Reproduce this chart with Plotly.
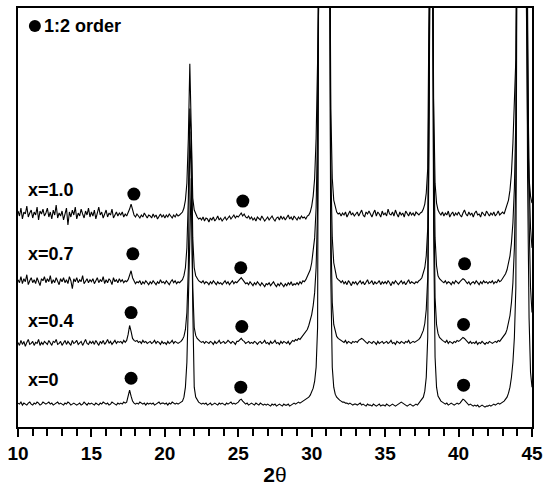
import numpy as np
import plotly.graph_objects as go

# 2-theta grid (degrees), 0.1 deg steps from 10 to 45
two_theta = np.round(np.arange(10.0, 45.0001, 0.1), 1)

# Intensities (arbitrary units, stacked as drawn in the figure)
int_x10 = [
    217,212,220,209,216,214,222,211,215,218,
    210,216,213,221,208,217,214,219,212,215,
    220,211,216,209,218,213,223,210,215,212,
    217,208,214,220,203,216,211,218,213,221,
    209,215,212,219,214,210,217,213,220,211,
    216,212,218,209,215,221,213,216,210,214,
    218,211,215,213,219,210,214,216,212,215,
    213,216,211,214,212,215,219,224,217,213,
    211,214,212,210,213,211,215,212,210,213,
    212,210,214,211,213,209,212,214,211,213,
    210,213,211,214,212,210,213,211,214,212,
    213,215,216,220,228,245,290,365,300,230,
    218,214,211,209,210,208,211,207,210,209,
    206,210,208,211,207,209,212,208,210,207,
    209,211,208,210,212,209,211,213,210,212,
    211,213,215,212,214,211,210,212,209,211,
    208,210,207,211,209,208,212,210,207,209,
    211,208,210,212,209,207,210,211,208,212,
    209,211,208,210,213,209,211,208,212,210,
    208,211,209,212,210,211,209,212,213,216,
    222,232,250,290,380,600,600,600,600,600,
    600,600,600,320,250,228,220,216,214,215,
    212,215,213,216,211,214,217,213,215,212,
    214,216,212,215,218,213,211,216,214,217,
    213,211,215,218,212,216,214,211,217,213,
    215,212,219,214,213,216,212,218,214,211,
    216,213,215,211,217,214,212,216,213,215,
    212,216,214,213,215,216,219,224,235,260,
    450,600,600,330,245,225,218,215,213,216,
    212,215,213,217,211,214,216,212,215,213,
    216,213,211,215,218,214,212,216,213,215,
    211,215,217,213,214,211,216,214,212,217,
    214,212,215,213,216,212,214,217,213,215,
    216,214,218,222,228,238,255,285,320,370,
    600,600,600,600,600,600,450,300,250,232,
    225,
]

int_x07 = [
    148,145,151,144,149,146,153,143,147,150,
    145,148,144,150,146,142,149,147,151,145,
    149,146,152,144,148,145,150,147,143,149,
    146,150,145,148,144,151,147,139,149,146,
    150,145,148,146,152,144,147,149,145,148,
    146,149,144,147,150,145,148,146,151,144,
    148,145,149,147,143,150,146,148,145,149,
    146,148,145,147,146,148,152,157,150,146,
    144,146,145,147,143,146,144,147,145,143,
    146,144,147,145,143,146,144,148,145,146,
    144,147,145,143,146,148,145,147,144,146,
    145,147,148,152,160,180,230,320,290,190,
    160,152,149,147,146,145,147,144,146,145,
    143,146,144,147,145,143,146,144,145,143,
    145,147,144,146,143,145,147,144,146,145,
    147,149,150,148,146,144,145,143,146,144,
    142,145,143,146,144,142,145,143,141,144,
    143,145,142,144,146,143,141,144,142,145,
    143,141,144,142,145,143,146,142,144,143,
    145,143,146,144,147,146,148,151,154,158,
    165,175,190,220,300,600,600,600,600,600,
    600,600,600,260,190,165,155,150,148,147,
    145,147,144,146,143,147,145,142,146,144,
    146,143,145,147,144,146,143,145,148,144,
    145,147,143,146,144,145,147,143,146,144,
    146,144,147,145,142,146,144,147,145,143,
    145,147,144,146,143,145,148,144,146,145,
    144,146,145,147,148,150,154,160,172,200,
    400,600,600,300,190,162,152,149,147,146,
    145,147,144,146,145,143,146,144,147,145,
    144,146,148,149,148,146,144,146,143,145,
    146,144,147,145,143,146,144,147,145,146,
    144,146,145,147,144,146,145,148,146,147,
    149,151,154,158,164,172,185,205,240,310,
    600,600,600,600,600,600,600,380,250,200,
    180,
]

int_x04 = [
    85,82,87,83,86,81,85,88,83,84,
    86,82,85,84,88,82,85,83,86,84,
    83,87,84,82,86,85,88,83,84,86,
    82,85,87,83,86,84,82,87,84,85,
    87,83,85,86,82,85,88,84,83,86,
    84,86,83,87,85,82,86,84,87,83,
    85,88,84,86,83,85,87,84,86,85,
    86,84,87,85,87,93,102,96,89,87,
    86,87,85,86,84,87,85,86,84,85,
    86,84,85,87,84,86,85,83,86,84,
    85,83,86,84,85,87,84,86,85,84,
    85,86,88,91,98,115,160,297,250,140,
    100,92,89,87,86,85,86,84,86,85,
    84,86,85,83,86,84,85,87,84,85,
    86,84,85,87,85,84,86,85,83,86,
    86,88,89,87,86,84,85,86,84,85,
    84,86,85,83,85,86,84,85,87,84,
    85,83,86,84,85,87,84,85,83,86,
    84,86,85,84,86,83,85,87,86,88,
    87,89,88,90,91,93,95,98,102,107,
    113,122,135,160,220,600,600,600,600,600,
    600,600,600,200,125,103,95,91,89,88,
    87,86,85,87,84,86,85,84,86,85,
    86,85,87,88,89,88,86,85,84,86,
    85,84,86,85,83,86,84,85,86,84,
    85,86,84,85,87,84,85,83,86,85,
    84,86,85,84,86,85,87,84,85,86,
    85,86,87,88,90,93,97,104,118,150,
    320,600,600,250,130,103,94,90,88,87,
    86,85,87,84,86,85,84,86,85,87,
    86,87,89,90,89,87,85,84,86,84,
    85,84,86,83,85,84,86,84,83,85,
    84,86,85,84,85,86,85,87,86,88,
    89,91,94,98,104,112,125,145,180,250,
    600,600,600,600,600,600,600,420,210,140,
    115,
]

int_x00 = [
    24,23,25,22,24,23,22,24,25,23,
    22,24,23,25,24,22,23,25,24,23,
    24,25,23,24,22,23,24,25,23,24,
    23,22,24,23,25,24,22,23,24,23,
    22,23,24,22,23,25,23,22,24,23,
    24,23,22,24,23,22,24,23,25,24,
    23,24,22,23,25,24,23,22,24,23,
    24,23,25,24,25,30,37,31,26,24,
    23,24,23,25,24,23,24,22,24,23,
    24,23,24,22,23,24,25,23,24,24,
    23,24,22,24,23,25,24,23,24,23,
    24,25,26,30,40,65,120,200,250,120,
    40,30,27,25,24,23,24,23,24,22,
    23,24,22,23,24,23,22,24,23,24,
    23,22,24,23,24,25,23,24,23,24,
    25,27,28,26,24,23,24,22,23,24,
    23,22,24,23,22,24,23,22,23,22,
    23,22,21,23,22,23,21,22,23,22,
    21,23,22,22,23,21,22,23,24,23,
    24,25,24,25,26,27,28,29,30,32,
    35,39,46,60,100,600,600,600,600,600,
    600,600,600,150,60,40,33,30,28,27,
    26,25,25,24,24,23,24,23,22,23,
    23,22,23,24,22,23,22,21,23,22,
    22,21,23,22,21,22,23,21,22,22,
    21,23,22,21,22,23,22,21,22,23,
    24,25,24,23,22,21,22,23,22,21,
    22,23,22,24,25,27,30,36,50,90,
    300,600,600,200,70,40,31,28,26,25,
    24,23,24,22,23,24,23,22,23,24,
    23,24,26,28,27,25,23,22,23,22,
    21,22,21,22,20,21,22,21,20,21,
    21,22,21,22,23,22,23,24,23,24,
    25,26,28,30,34,40,50,65,90,140,
    600,600,600,600,600,600,600,250,110,55,
    40,
]

series_names = ["x=1.0", "x=0.7", "x=0.4", "x=0"]
series_values = [int_x10, int_x07, int_x04, int_x00]
label_levels = [238, 174, 107, 47]

# 1:2 order superlattice markers
dot_theta = [17.89, 25.31, 17.82, 25.17, 40.41, 17.70, 25.24, 40.34, 17.70, 25.17, 40.34]
dot_level = [234, 227, 174, 160, 164, 115, 101, 103, 49, 40, 42]

legend_theta = [11.15]
legend_level = [403]
legend_text = "1:2 order"

x_ticks = [10, 15, 20, 25, 30, 35, 40, 45]

FONT = "Arial, 'Liberation Sans', Helvetica, sans-serif"

fig = go.Figure()
for name, vals in zip(series_names, series_values):
    fig.add_trace(go.Scatter(
        x=two_theta, y=vals, mode="lines", name=name,
        line=dict(color="black", width=1.1), showlegend=False,
    ))

fig.add_trace(go.Scatter(
    x=dot_theta, y=dot_level, mode="markers",
    marker=dict(color="black", size=13), showlegend=False,
))
fig.add_trace(go.Scatter(
    x=legend_theta, y=legend_level, mode="markers",
    marker=dict(color="black", size=12), showlegend=False,
))

fig.add_annotation(x=11.62, y=legend_level[0], text=legend_text, showarrow=False,
                   xanchor="left", yanchor="middle",
                   font=dict(family=FONT, size=18, color="black", weight="bold"))
for name, lvl in zip(series_names, label_levels):
    fig.add_annotation(x=10.54, y=lvl, text=name, showarrow=False,
                       xanchor="left", yanchor="middle",
                       font=dict(family=FONT, size=18, color="black", weight="bold"))

fig.update_xaxes(
    range=[10, 45], tickvals=x_ticks, ticktext=[str(t) for t in x_ticks],
    ticks="outside", ticklen=8, tickwidth=2, tickcolor="black",
    minor=dict(dtick=1, tick0=10, ticks="outside", ticklen=7, tickwidth=1.5, tickcolor="black"),
    showline=True, linewidth=2, linecolor="black", mirror=True,
    showgrid=False, zeroline=False,
    tickfont=dict(family=FONT, size=19, color="black", weight="bold"),
    title=dict(text="<b>2</b>θ", font=dict(family=FONT, size=21, color="black"), standoff=5),
)
fig.update_yaxes(
    range=[0, 421], showticklabels=False, ticks="",
    showline=True, linewidth=2, linecolor="black", mirror=True,
    showgrid=False, zeroline=False,
)
fig.update_layout(
    width=549, height=492,
    margin=dict(l=18, r=12, t=6, b=65),
    paper_bgcolor="white", plot_bgcolor="white",
)
fig.write_html("out.html")
